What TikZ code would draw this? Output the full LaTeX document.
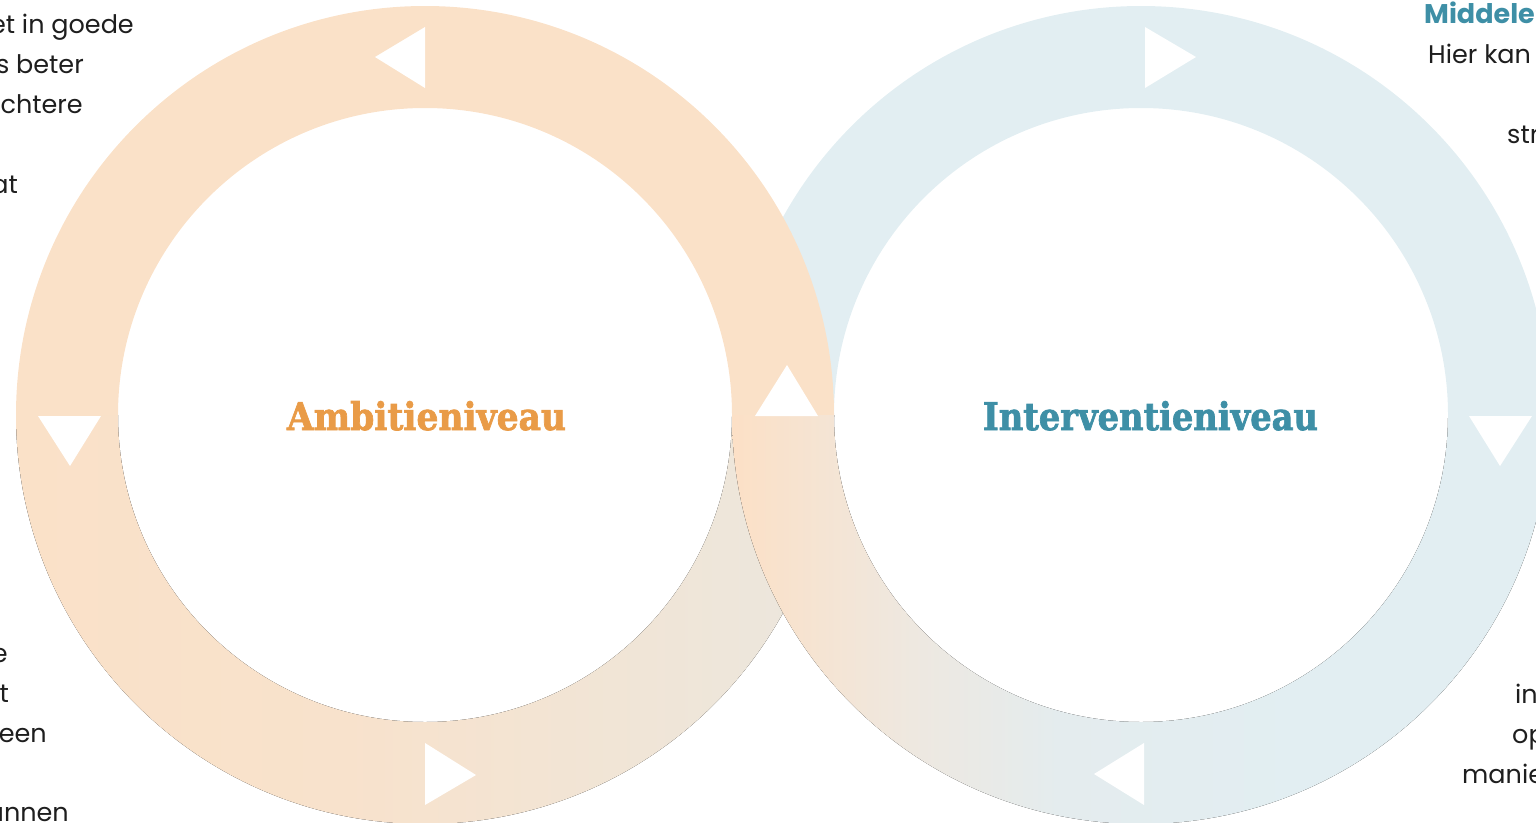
\documentclass[tikz,border=0pt]{standalone}
\usepackage{fontspec}
\usepackage{graphicx}
\setmainfont{Poppins}
\newfontfamily\slabfont{DejaVu Serif}[BoldFeatures={FakeBold=2}]
\definecolor{peach}{RGB}{250,225,200}
\definecolor{peachmid}{RGB}{248,226,204}
\definecolor{beige}{RGB}{235,231,222}
\definecolor{peachR}{RGB}{252,224,198}
\definecolor{greyR}{RGB}{238,232,224}
\definecolor{blueish}{RGB}{228,236,238}
\definecolor{ringblue}{RGB}{226,238,242}
\definecolor{orangeT}{RGB}{233,155,71}
\definecolor{blueT}{RGB}{62,143,166}
\definecolor{ink}{RGB}{30,30,30}
\pgfdeclarehorizontalshading{lbot}{100bp}{color(0bp)=(peach); color(25bp)=(peach); color(45bp)=(peachmid); color(75bp)=(beige); color(100bp)=(beige)}
\pgfdeclarehorizontalshading{rbot}{100bp}{color(0bp)=(peachR); color(25bp)=(peachR); color(36bp)=(greyR); color(45bp)=(blueish); color(60bp)=(ringblue); color(100bp)=(ringblue)}
\tikzset{
  arrowtri/.style={fill=white},
  bodytext/.style={font=\fontsize{25.5}{30}\selectfont, text=ink, inner sep=0pt},
  boldtext/.style={font=\fontsize{27}{30}\selectfont\bfseries, text=blueT, inner sep=0pt},
  titletext/.style={inner sep=0pt, anchor=base}
}
\begin{document}
\begin{tikzpicture}[x=1pt,y=-1pt]
\useasboundingbox (0,0) rectangle (1536,822);
\clip (0,0) rectangle (1536,822);
% left ring, bottom half
\fill[shading=lbot] (834,415) arc[start angle=0,end angle=180,radius=409] -- (118,415) arc[start angle=180,end angle=0,radius=307] -- cycle;
% right ring, top half
\fill[ringblue] (732,415) arc[start angle=180,end angle=360,radius=409] -- (1448,415) arc[start angle=360,end angle=180,radius=307] -- cycle;
% left ring, top half
\fill[peach] (16,415) arc[start angle=180,end angle=360,radius=409] -- (732,415) arc[start angle=360,end angle=180,radius=307] -- cycle;
% right ring, bottom half
\fill[shading=rbot] (1550,415) arc[start angle=0,end angle=180,radius=409] -- (834,415) arc[start angle=180,end angle=0,radius=307] -- cycle;
% arrow triangles, left ring
\fill[arrowtri] (375,57) -- (425,27) -- (425,88) -- cycle;
\fill[arrowtri] (38,416) -- (101,416) -- (70,466) -- cycle;
\fill[arrowtri] (425,743) -- (425,805) -- (476,775) -- cycle;
\fill[arrowtri] (755,416) -- (818,416) -- (787,365) -- cycle;
% arrow triangles, right ring
\fill[arrowtri] (1145,27) -- (1145,88) -- (1196,57) -- cycle;
\fill[arrowtri] (1469,416) -- (1532,416) -- (1500,466) -- cycle;
\fill[arrowtri] (1144,743) -- (1144,805) -- (1094,774) -- cycle;
% titles
\node[titletext, text=orangeT] (amb) at (426.5,430) {\resizebox{279pt}{29pt}{\slabfont\bfseries Ambitieniveau}};
\node[titletext, text=blueT] (int) at (1150.5,430) {\resizebox{335pt}{29pt}{\slabfont\bfseries Interventieniveau}};
% left text fragments
\node[bodytext, anchor=base east] (l1) at (134,33) {et in goede};
\node[bodytext, anchor=base east] (l2) at (84,73) {s beter};
\node[bodytext, anchor=base east] (l3) at (83,113) {chtere};
\node[bodytext, anchor=base east] (l4) at (18,193) {at};
\node[bodytext, anchor=base east] (l5) at (8,662) {e};
\node[bodytext, anchor=base east] (l6) at (9,702) {t};
\node[bodytext, anchor=base east] (l7) at (47,742) {een};
\node[bodytext, anchor=base east] (l8) at (69,821) {unnen};
% right text fragments
\node[boldtext, anchor=base west] (r1) at (1424,23) {Middele};
\node[bodytext, anchor=base west] (r2) at (1428,63) {Hier kan};
\node[bodytext, anchor=base west] (r3) at (1507,143) {str};
\node[bodytext, anchor=base west] (r4) at (1515,703) {in};
\node[bodytext, anchor=base west] (r5) at (1512,743) {op};
\node[bodytext, anchor=base west] (r6) at (1462,783) {manie};
\end{tikzpicture}
\end{document}
